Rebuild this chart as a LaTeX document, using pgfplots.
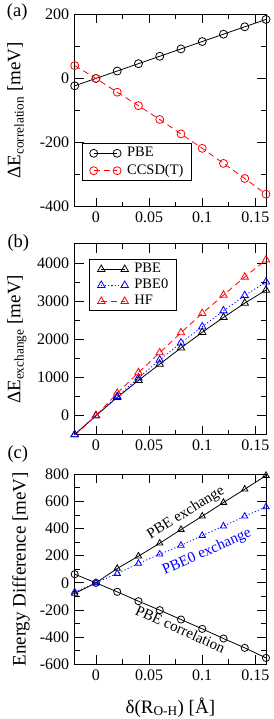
\documentclass[border=0pt]{standalone}
\usepackage{fontspec}
\setmainfont{Liberation Serif}
\usepackage{pgfplots}
\pgfplotsset{compat=1.18}
\definecolor{xred}{RGB}{255,0,0}
\definecolor{xblue}{RGB}{0,0,255}
\pgfplotsset{
  panel/.style={
    scale only axis, width=191.3pt,
    xmin=-0.02, xmax=0.16,
    xtick={0,0.05,0.1,0.15},
    minor xtick={0.025,0.075,0.125},
    minor y tick num=1,
    tick align=inside,
    major tick length=9pt, minor tick length=5pt,
    tick style={black, line width=0.8pt},
    axis line style={line width=1pt},
    ticklabel style={font=\fontsize{16}{18}\selectfont},
    /pgf/number format/assume math mode=true,
    scaled ticks=false,
    /pgf/number format/1000 sep={},
    xticklabel style={/pgf/number format/fixed, /pgf/number format/precision=2, yshift=-2pt},
    yticklabel style={xshift=-2pt},
    label style={font=\fontsize{19}{21}\selectfont},
    ylabel style={at={(axis description cs:-0.354,0.5)}, anchor=north, inner sep=0pt},
    legend cell align=left,
    legend image code/.code={\path (-8.8pt,0pt); \draw[##1] plot coordinates {(0pt,0pt) (23.4pt,0pt)};},
    legend style={draw=black, line width=1pt, font=\fontsize{14.5}{16}\selectfont,
      inner xsep=2.3pt, inner ysep=3pt, anchor=north west,
      nodes={inner sep=0pt, inner xsep=6pt, text height=10pt, text depth=3pt}, row sep=4.4pt},
  },
}
\begin{document}
\begin{tikzpicture}
\path[use as bounding box] (0,0) rectangle (273pt,719pt);

% ---------- (a)
\begin{axis}[panel, at={(74.7pt,512.3pt)}, anchor=south west, height=192.4pt,
  ymin=-400, ymax=200, ytick={-400,-200,0,200},
  ylabel={ΔE\textsubscript{correlation} [meV]},
  legend style={at={(axis description cs:0.0366,0.3295)}}]
\addplot[black, line width=0.8pt, mark=o, mark size=4pt, mark options={solid}] coordinates {
 (-0.02,-23) (0,0) (0.02,23) (0.04,46) (0.06,69) (0.08,92) (0.10,115) (0.12,138) (0.14,161) (0.16,184)};
\addlegendentry{PBE}
\addplot[xred, line width=0.8pt, dash pattern=on 6pt off 4pt, mark=o, mark size=4pt, mark options={solid}] coordinates {
 (-0.02,40) (0,0) (0.02,-43) (0.04,-85) (0.06,-128) (0.08,-173) (0.10,-218) (0.12,-265) (0.14,-312) (0.16,-361)};
\addlegendentry{CCSD(T)}
\end{axis}

% ---------- (b)
\begin{axis}[panel, at={(74.7pt,284.3pt)}, anchor=south west, height=190.7pt,
  ymin=-500, ymax=4500, ytick={0,1000,2000,3000,4000}, minor ytick={-500,500,1500,2500,3500},
  ylabel={ΔE\textsubscript{exchange} [meV]},
  legend style={at={(axis description cs:0.0763,0.9198)}, row sep=3pt}]
\addplot[black, line width=0.8pt, mark=triangle, mark size=4.3pt, mark options={solid}] coordinates {
 (-0.02,-495) (0,0) (0.02,478) (0.04,925) (0.06,1350) (0.08,1775) (0.10,2185) (0.12,2575) (0.14,2950) (0.16,3290)};
\addlegendentry{PBE}
\addplot[xblue, line width=0.8pt, dash pattern=on 1.2pt off 2.2pt, mark=triangle, mark size=4.3pt, mark options={solid}] coordinates {
 (-0.02,-500) (0,0) (0.02,505) (0.04,990) (0.06,1460) (0.08,1910) (0.10,2330) (0.12,2750) (0.14,3150) (0.16,3505)};
\addlegendentry{PBE0}
\addplot[xred, line width=0.8pt, dash pattern=on 6pt off 4pt, mark=triangle, mark size=4.3pt, mark options={solid}] coordinates {
 (-0.02,-520) (0,0) (0.02,590) (0.04,1130) (0.06,1650) (0.08,2175) (0.10,2680) (0.12,3160) (0.14,3635) (0.16,4085)};
\addlegendentry{HF}
\end{axis}

% ---------- (c)
\begin{axis}[panel, at={(74.7pt,54.7pt)}, anchor=south west, height=190pt,
  ymin=-600, ymax=800, ytick={-600,-400,-200,0,200,400,600,800},
  ylabel={Energy Difference [meV]},
  ylabel style={at={(axis description cs:-0.328,0.5)}},
  xlabel={δ(R\textsubscript{O-H}) [Å]},
  xlabel style={at={(axis description cs:0.5,-0.174)}, anchor=north, inner sep=0pt}]
\addplot[black, line width=0.8pt, mark=o, mark size=3.6pt, mark options={solid}] coordinates {
 (-0.02,64) (0,0) (0.02,-66) (0.04,-135) (0.06,-201) (0.08,-270) (0.10,-339) (0.12,-410) (0.14,-479) (0.16,-553)};
\addplot[black, line width=0.8pt, mark=triangle, mark size=3.7pt, mark options={solid}] coordinates {
 (-0.02,-78) (0,0) (0.02,106) (0.04,197) (0.06,292) (0.08,393) (0.10,491) (0.12,592) (0.14,690) (0.16,791)};
\addplot[xblue, line width=0.8pt, dash pattern=on 1.2pt off 2.2pt, mark=triangle, mark size=3.7pt, mark options={solid}] coordinates {
 (-0.02,-66) (0,0) (0.02,69) (0.04,143) (0.06,211) (0.08,276) (0.10,349) (0.12,418) (0.14,491) (0.16,560)};
\node[rotate=32, font=\fontsize{15}{17}\selectfont] at (axis cs:0.0847,515) {PBE exchange};
\node[rotate=24, text=xblue, font=\fontsize{15}{17}\selectfont] at (axis cs:0.1045,227) {PBE0 exchange};
\node[rotate=-24, font=\fontsize{15}{17}\selectfont] at (axis cs:0.0795,-340) {PBE correlation};
\end{axis}

\node[anchor=base west, inner sep=0pt, font=\fontsize{18.5}{20}\selectfont] at (6.7pt,702.8pt) {(a)};
\node[anchor=base west, inner sep=0pt, font=\fontsize{18.5}{20}\selectfont] at (7.3pt,471.8pt) {(b)};
\node[anchor=base west, inner sep=0pt, font=\fontsize{18.5}{20}\selectfont] at (7.3pt,260.1pt) {(c)};
\end{tikzpicture}
\end{document}
